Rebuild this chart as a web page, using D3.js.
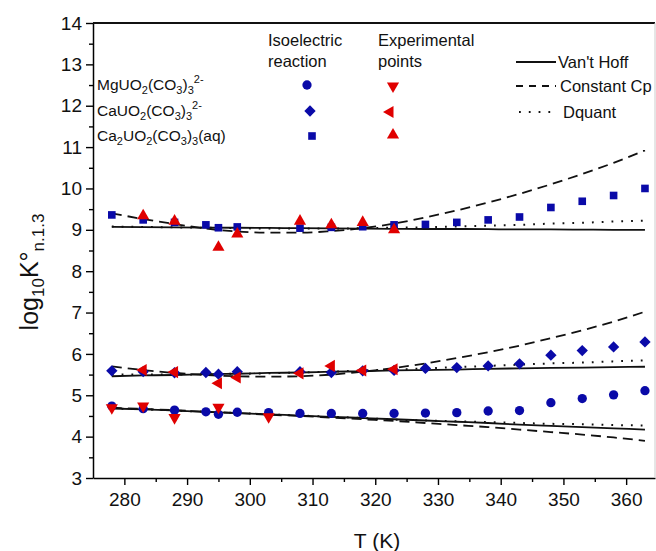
<!DOCTYPE html>
<html><head><meta charset="utf-8">
<script src="https://cdn.jsdelivr.net/npm/d3@7"></script>
<style>body{margin:0;background:#fff;} svg{display:block;font-family:"Liberation Sans",Arial,sans-serif;}</style>
</head><body>
<svg id="c" width="656" height="551"></svg>
<script>
// ---- data ----
const xTicks = [280,290,300,310,320,330,340,350,360];
const yTicks = [3,4,5,6,7,8,9,10,11,12,13,14];

// isoelectric reaction (blue)
const mgIsoT = [278,283,288,293,295,298,303,308,313,318,323,328,333,338,343,348,353,358,363];
const mgIso  = [4.74,4.675,4.64,4.60,4.54,4.59,4.58,4.56,4.56,4.56,4.56,4.57,4.58,4.62,4.63,4.82,4.92,5.01,5.11];
const caIsoT = [278,283,288,293,295,298,308,313,318,323,328,333,338,343,348,353,358,363];
const caIso  = [5.59,5.57,5.545,5.55,5.51,5.57,5.57,5.55,5.59,5.60,5.65,5.67,5.71,5.76,5.97,6.08,6.17,6.29];
const ca2IsoT = [278,283,288,293,295,298,308,313,318,323,328,333,338,343,348,353,358,363];
const ca2Iso  = [9.36,9.24,9.18,9.12,9.05,9.07,9.04,9.06,9.075,9.12,9.13,9.18,9.24,9.31,9.54,9.69,9.83,10.0];

// experimental points (red)
const mgExpT = [278,283,288,295,303];
const mgExp  = [4.70,4.74,4.46,4.71,4.48];
const caExpT = [283,288,295,298,308,313,318,323];
const caExp  = [5.61,5.56,5.29,5.43,5.53,5.71,5.60,5.63];
const ca2ExpT = [283,288,295,298,308,313,318,323];
const ca2Exp  = [9.34,9.21,8.58,8.90,9.21,9.12,9.18,9.00];

// model curves
const lineT = [278,283,288,293,298,303,308,313,318,323,328,333,338,343,348,353,358,363];
const mgVH   = [4.68,4.66,4.63,4.60,4.57,4.54,4.51,4.48,4.45,4.42,4.39,4.36,4.33,4.29,4.26,4.23,4.20,4.17];
const mgCp   = [4.70,4.67,4.64,4.60,4.57,4.53,4.50,4.46,4.42,4.38,4.33,4.28,4.23,4.17,4.11,4.05,3.98,3.90];
const mgDq   = [4.68,4.66,4.63,4.60,4.57,4.54,4.51,4.48,4.45,4.41,4.39,4.37,4.35,4.33,4.31,4.30,4.28,4.27];
const caVH   = [5.46,5.48,5.49,5.51,5.52,5.54,5.55,5.57,5.58,5.60,5.61,5.62,5.64,5.65,5.66,5.67,5.68,5.69];
const caCp   = [5.70,5.61,5.54,5.49,5.46,5.45,5.46,5.50,5.57,5.66,5.77,5.90,6.04,6.20,6.38,6.57,6.78,7.02];
const caDq   = [5.50,5.50,5.50,5.51,5.52,5.53,5.55,5.57,5.60,5.62,5.65,5.68,5.71,5.74,5.77,5.79,5.82,5.84];
const ca2VH  = [9.07,9.065,9.06,9.055,9.05,9.045,9.04,9.035,9.03,9.025,9.02,9.02,9.015,9.01,9.01,9.005,9.00,9.00];
const ca2Cp  = [9.40,9.26,9.14,9.03,8.96,8.93,8.93,8.97,9.04,9.15,9.30,9.47,9.66,9.87,10.10,10.35,10.62,10.92];
const ca2Dq  = [9.08,9.07,9.06,9.05,9.04,9.03,9.03,9.03,9.04,9.05,9.06,9.08,9.10,9.12,9.15,9.17,9.20,9.22];

// ---- drawing ----
const BLUE = "#0a0aa8", RED = "#e00000";
const svg = d3.select("#c");
const x = d3.scaleLinear().domain([275, 364.6]).range([93, 655]);
const y = d3.scaleLinear().domain([3, 14]).range([478, 23]);

// curves
const line = d3.line().x(d => x(d[0])).y(d => y(d[1])).curve(d3.curveMonotoneX);
const styles = {vh: {dash: null, w: 1.8}, cp: {dash: "10,6", w: 1.8}, dq: {dash: "1.8,8", w: 2}};
[[mgVH,"vh"],[mgCp,"cp"],[mgDq,"dq"],[caVH,"vh"],[caCp,"cp"],[caDq,"dq"],[ca2VH,"vh"],[ca2Cp,"cp"],[ca2Dq,"dq"]].forEach(([vals, k]) => {
  svg.append("path").datum(lineT.map((t,i) => [t, vals[i]]))
    .attr("d", line).attr("fill","none").attr("stroke","#111")
    .attr("stroke-width", styles[k].w).attr("stroke-dasharray", styles[k].dash);
});

// symbols
const sym = {
  circle: d3.symbol().type(d3.symbolCircle).size(68),
  square: d3.symbol().type(d3.symbolSquare).size(58),
  diamond: d3.symbol().type(d3.symbolSquare).size(64),
  tri: d3.symbol().type(d3.symbolTriangle).size(64)
};
function pts(T, V, shape, color, rot) {
  svg.append("g").selectAll("path").data(T.map((t,i)=>[t,V[i]])).join("path")
    .attr("d", sym[shape]())
    .attr("transform", d => `translate(${x(d[0])},${y(d[1])}) rotate(${rot||0})`)
    .attr("fill", color);
}
pts(mgIsoT, mgIso, "circle", BLUE);
pts(caIsoT, caIso, "diamond", BLUE, 45);
pts(ca2IsoT, ca2Iso, "square", BLUE);
pts(mgExpT, mgExp, "tri", RED, 180);
pts(caExpT, caExp, "tri", RED, -90);
pts(ca2ExpT, ca2Exp, "tri", RED, 0);

// axes
const fs = "19px";
const ax = svg.append("g").attr("transform","translate(0,478)")
  .call(d3.axisBottom(x).tickValues(xTicks).tickSize(7).tickPadding(8).tickSizeOuter(0));
svg.append("g").attr("transform","translate(0,478)")
  .call(d3.axisBottom(x).tickValues([285,295,305,315,325,335,345,355]).tickSize(4).tickFormat("").tickSizeOuter(0))
  .select(".domain").remove();
const ay = svg.append("g").attr("transform","translate(93,0)")
  .call(d3.axisLeft(y).tickValues(yTicks).tickSize(7).tickPadding(4).tickSizeOuter(0));
svg.append("g").attr("transform","translate(93,0)")
  .call(d3.axisLeft(y).tickValues(d3.range(3.5,14,1)).tickSize(4).tickFormat("").tickSizeOuter(0))
  .select(".domain").remove();
svg.selectAll(".tick line").attr("stroke","#000").attr("stroke-width",1.4);
[ax, ay].forEach(a => {
  a.select(".domain").attr("stroke","#000").attr("stroke-width",1.5);
  a.selectAll(".tick text").attr("font-size", fs).attr("fill","#111").attr("font-family","Liberation Sans, Arial, sans-serif");
});
// frame top / right
svg.append("line").attr("x1",x(275)).attr("x2",x(364.6)).attr("y1",y(14)).attr("y2",y(14)).attr("stroke","#111").attr("stroke-width",2.2);
svg.append("line").attr("x1",x(364.6)).attr("x2",x(364.6)).attr("y1",y(14)).attr("y2",y(3)).attr("stroke","#ccc").attr("stroke-width",1);

// axis titles
svg.append("text").attr("x", 377).attr("y", 548).attr("text-anchor","middle")
  .attr("font-size","21px").attr("fill","#111").text("T (K)");
const yl = svg.append("text").attr("transform","translate(38,272) rotate(-90)")
  .attr("text-anchor","middle").attr("fill","#111").attr("font-size","25px");
yl.append("tspan").text("log");
yl.append("tspan").attr("font-size","17px").attr("dy",6).text("10");
yl.append("tspan").attr("dy",-6).text("K°");
yl.append("tspan").attr("font-size","17px").attr("dy",6).text("n.1.3");

// legend
const lg = svg.append("g").attr("font-size","16.5px").attr("fill","#111");
lg.append("text").attr("x",268).attr("y",46).text("Isoelectric");
lg.append("text").attr("x",268).attr("y",67).text("reaction");
lg.append("text").attr("x",378).attr("y",46).text("Experimental");
lg.append("text").attr("x",378).attr("y",67).text("points");

function chem(yy, parts) {
  const t = lg.append("text").attr("x",97).attr("y",yy).attr("font-size","15.5px");
  let cur = 0;
  parts.forEach(([s, kind]) => {
    const sp = t.append("tspan").text(s);
    let target = kind === "sub" ? 4 : kind === "sup" ? -7 : 0;
    sp.attr("dy", target - cur); cur = target;
    if (kind) sp.attr("font-size","11px");
  });
}
chem(90, [["MgUO"],["2","sub"],["(CO"],["3","sub"],[")"],["3","sub"],["2-","sup"]]);
chem(116, [["CaUO"],["2","sub"],["(CO"],["3","sub"],[")"],["3","sub"],["2-","sup"]]);
chem(141, [["Ca"],["2","sub"],["UO"],["2","sub"],["(CO"],["3","sub"],[")"],["3","sub"],["(aq)"]]);

const legSym = [["circle",BLUE,0,307,85],["diamond",BLUE,45,310,111],["square",BLUE,0,312,136],
                ["tri",RED,180,393,86],["tri",RED,-90,390,112],["tri",RED,0,393,135]];
legSym.forEach(([s,c,r,lx,ly]) => {
  svg.append("path").attr("d", sym[s]()).attr("fill",c).attr("transform",`translate(${lx},${ly}) rotate(${r})`);
});
const legLines = [["Van't Hoff","vh",62],["Constant Cp","cp",86],["Dquant","dq",112]];
legLines.forEach(([label,k,ly]) => {
  svg.append("line").attr("x1", k==="dq"?519:516).attr("x2",k==="dq"?553:556).attr("y1",ly).attr("y2",ly)
    .attr("stroke","#111").attr("stroke-width",styles[k].w).attr("stroke-dasharray", k==="cp"?"7,6":styles[k].dash);
  lg.append("text").attr("x", k==="vh"?558:(k==="cp"?560:563)).attr("y", ly+6).text(label);
});
</script>
</body></html>
